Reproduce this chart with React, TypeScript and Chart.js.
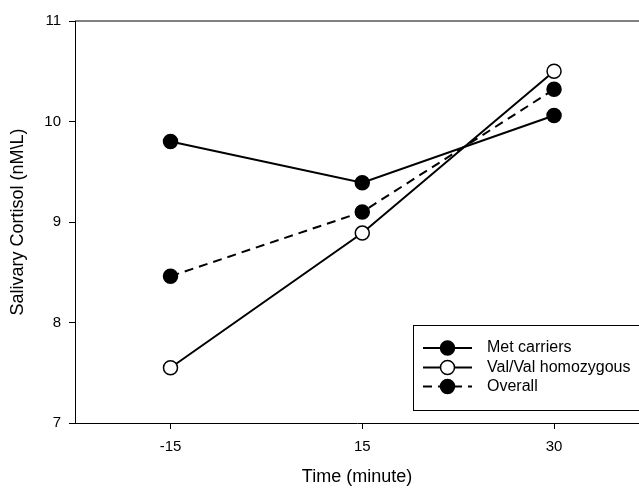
import React, { useEffect, useRef } from "react";
import { Chart, registerables } from "chart.js";

Chart.register(...registerables);

const xLabels: string[] = ["-15", "15", "30"];
const xIndex: number[] = [0, 1, 2];
const metCarriers: number[] = [9.8, 9.39, 10.06];
const valVal: number[] = [7.55, 8.89, 10.5];
const overall: number[] = [8.46, 9.1, 10.32];
const yTicks: number[] = [7, 8, 9, 10, 11];

const FONT = "'Liberation Sans', Arial, sans-serif";

const legendPlugin = {
  id: "customLegend",
  afterDraw(chart: any) {
    const { ctx, chartArea } = chart;
    ctx.save();
    // top border of plot
    ctx.strokeStyle = "#000";
    ctx.lineWidth = 1;
    ctx.beginPath();
    ctx.moveTo(chartArea.left, chartArea.top);
    ctx.lineTo(chart.width, chartArea.top);
    ctx.stroke();

    // legend box
    const bx = 413.5;
    const by = 325.5;
    const bb = 410.5;
    ctx.strokeStyle = "#000";
    ctx.lineWidth = 1;
    ctx.fillStyle = "#fff";
    ctx.fillRect(bx, by, 700 - bx, bb - by);
    ctx.strokeRect(bx, by, 700 - bx, bb - by);

    const rows = [348, 367.5, 386.5];
    chart.data.datasets.forEach((ds: any, i: number) => {
      const y = rows[i];
      ctx.save();
      ctx.strokeStyle = "#000";
      ctx.lineWidth = 2;
      ctx.setLineDash(ds.borderDash || []);
      ctx.beginPath();
      ctx.moveTo(423, y);
      ctx.lineTo(472, y);
      ctx.stroke();
      ctx.restore();
      ctx.beginPath();
      ctx.arc(447.5, y, 7, 0, Math.PI * 2);
      ctx.fillStyle = ds.pointBackgroundColor;
      ctx.fill();
      ctx.lineWidth = 1.5;
      ctx.strokeStyle = "#000";
      ctx.stroke();
      ctx.fillStyle = "#000";
      ctx.font = `16px ${FONT}`;
      ctx.textBaseline = "middle";
      ctx.textAlign = "left";
      ctx.fillText(ds.label, 487, y);
    });
    ctx.restore();
  },
};

export default function App() {
  const ref = useRef<HTMLCanvasElement | null>(null);

  useEffect(() => {
    document.body.style.margin = "0";
    if (!ref.current) return;
    const mk = (data: number[]) => xIndex.map((x, i) => ({ x, y: data[i] }));
    const chart = new Chart(ref.current, {
      type: "line",
      data: {
        datasets: [
          {
            label: "Met carriers",
            data: mk(metCarriers),
            borderColor: "#000",
            borderWidth: 2,
            pointRadius: 7,
            pointBorderWidth: 1.5,
            pointBorderColor: "#000",
            pointBackgroundColor: "#000",
          },
          {
            label: "Val/Val homozygous",
            data: mk(valVal),
            borderColor: "#000",
            borderWidth: 2,
            pointRadius: 7,
            pointBorderWidth: 1.5,
            pointBorderColor: "#000",
            pointBackgroundColor: "#fff",
          },
          {
            label: "Overall",
            data: mk(overall),
            borderColor: "#000",
            borderWidth: 2,
            borderDash: [9, 6],
            pointRadius: 7,
            pointBorderWidth: 1.5,
            pointBorderColor: "#000",
            pointBackgroundColor: "#000",
          },
        ],
      },
      options: {
        responsive: false,
        animation: false,
        devicePixelRatio: 1,
        layout: { autoPadding: false, padding: { top: 21, left: 0, right: 0, bottom: 0 } },
        plugins: {
          legend: { display: false },
          tooltip: { enabled: false },
        },
        scales: {
          x: {
            type: "linear",
            min: -0.498,
            max: 2.443,
            afterBuildTicks: (scale: any) => {
              scale.ticks = xIndex.map((v) => ({ value: v }));
            },
            afterFit: (scale: any) => {
              scale.height = 65;
              scale.paddingLeft = 0;
              scale.paddingRight = 0;
            },
            ticks: {
              autoSkip: false,
              maxRotation: 0,
              padding: 9,
              color: "#000",
              font: { family: FONT, size: 15 },
              callback: (v: any) => xLabels[xIndex.indexOf(Number(v))] ?? "",
            },
            grid: { drawOnChartArea: false, drawTicks: true, tickLength: 6, color: "#000" },
            border: { display: true, color: "#000", width: 1 },
            title: {
              display: true,
              text: "Time (minute)",
              color: "#000",
              font: { family: FONT, size: 18 },
              padding: { top: 0, bottom: 0 },
            },
          },
          y: {
            min: 7,
            max: 11,
            afterBuildTicks: (scale: any) => {
              scale.ticks = yTicks.map((v) => ({ value: v }));
            },
            afterFit: (scale: any) => {
              scale.width = 75;
            },
            ticks: {
              padding: 8,
              color: "#000",
              font: { family: FONT, size: 15 },
            },
            grid: { drawOnChartArea: false, drawTicks: true, tickLength: 6, color: "#000" },
            border: { display: true, color: "#000", width: 1 },
            title: {
              display: true,
              text: "Salivary Cortisol (nM\\L)",
              color: "#000",
              font: { family: FONT, size: 18 },
              padding: { top: 7, bottom: 0 },
            },
          },
        },
      },
      plugins: [legendPlugin],
    });
    return () => chart.destroy();
  }, []);

  return <canvas ref={ref} width={639} height={488} style={{ display: "block" }} />;
}
